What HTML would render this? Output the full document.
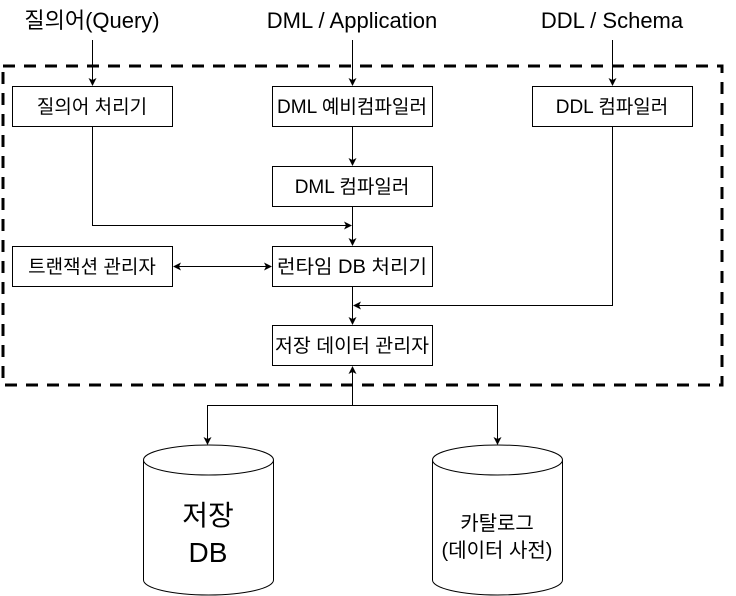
<!DOCTYPE html>
<html><head><meta charset="utf-8"><style>
html,body{margin:0;padding:0;background:#fff;width:736px;height:596px;overflow:hidden}
svg text{font-family:"Liberation Sans","Noto Sans CJK KR",sans-serif;fill:#000}
</style></head><body>
<svg width="736" height="596" viewBox="0 0 736 596" xmlns="http://www.w3.org/2000/svg">
<defs>
<marker id="a" markerWidth="8" markerHeight="8" refX="7" refY="4" orient="auto" markerUnits="userSpaceOnUse">
<path d="M0,0 L8,4 L0,8 L2,4 Z" fill="#000"/></marker>
<marker id="s" markerWidth="8" markerHeight="8" refX="1" refY="4" orient="auto" markerUnits="userSpaceOnUse">
<path d="M8,0 L0,4 L8,8 L6,4 Z" fill="#000"/></marker>
</defs>
<rect x="3" y="66" width="719" height="319" fill="none" stroke="#000" stroke-width="3" stroke-dasharray="12 9"/>
<g font-size="22" text-anchor="middle">
<text x="92" y="28">질의어(Query)</text>
<text x="352" y="28">DML / Application</text>
<text x="612" y="28">DDL / Schema</text>
</g>
<g fill="#fff" stroke="#000" stroke-width="1">
<rect x="12.5" y="86.5" width="160" height="40"/>
<rect x="272.5" y="86.5" width="160" height="40"/>
<rect x="532.5" y="86.5" width="160" height="40"/>
<rect x="272.5" y="166.5" width="160" height="40"/>
<rect x="12.5" y="246.5" width="160" height="40"/>
<rect x="272.5" y="246.5" width="160" height="40"/>
<rect x="272.5" y="325.5" width="160" height="40"/>
</g>
<g font-size="19" text-anchor="middle">
<text x="92" y="113">질의어 처리기</text>
<text x="352" y="113" textLength="150" lengthAdjust="spacingAndGlyphs">DML 예비컴파일러</text>
<text x="612" y="113">DDL 컴파일러</text>
<text x="352" y="193">DML 컴파일러</text>
<text x="92" y="273">트랜잭션 관리자</text>
<text x="352" y="273" textLength="150" lengthAdjust="spacingAndGlyphs">런타임 DB 처리기</text>
<text x="352" y="352" textLength="154" lengthAdjust="spacingAndGlyphs">저장 데이터 관리자</text>
</g>
<g stroke="#000" stroke-width="1" fill="none">
<line x1="92.5" y1="40" x2="92.5" y2="85" marker-end="url(#a)"/>
<line x1="352.5" y1="40" x2="352.5" y2="85" marker-end="url(#a)"/>
<line x1="612.5" y1="40" x2="612.5" y2="85" marker-end="url(#a)"/>
<line x1="352.5" y1="127" x2="352.5" y2="165" marker-end="url(#a)"/>
<line x1="352.5" y1="207" x2="352.5" y2="245" marker-end="url(#a)"/>
<polyline points="92.5,127 92.5,225.5 351,225.5" marker-end="url(#a)"/>
<line x1="174" y1="266.5" x2="271" y2="266.5" marker-start="url(#s)" marker-end="url(#a)"/>
<line x1="352.5" y1="287" x2="352.5" y2="324" marker-end="url(#a)"/>
<polyline points="612.5,127 612.5,305.5 354,305.5" marker-end="url(#a)"/>
<line x1="352.5" y1="405.5" x2="352.5" y2="367" marker-end="url(#a)"/>
<polyline points="207.5,444 207.5,405.5 497.5,405.5 497.5,444"/>
<line x1="207.5" y1="420" x2="207.5" y2="444" marker-end="url(#a)"/>
<line x1="497.5" y1="420" x2="497.5" y2="444" marker-end="url(#a)"/>
</g>
<g stroke="#000" stroke-width="1" fill="#fff">
<path d="M143.5,460 L143.5,580 A65,15 0 0 0 273.5,580 L273.5,460"/>
<ellipse cx="208.5" cy="460" rx="65" ry="15"/>
<path d="M432.5,460 L432.5,580 A65,15 0 0 0 562.5,580 L562.5,460"/>
<ellipse cx="497.5" cy="460" rx="65" ry="15"/>
</g>
<g text-anchor="middle">
<text x="208" y="525" font-size="28">저장</text>
<text x="208" y="562" font-size="28">DB</text>
<text x="497" y="530" font-size="20">카탈로그</text>
<text x="497" y="557" font-size="20">(데이터 사전)</text>
</g>
</svg>
</body></html>
